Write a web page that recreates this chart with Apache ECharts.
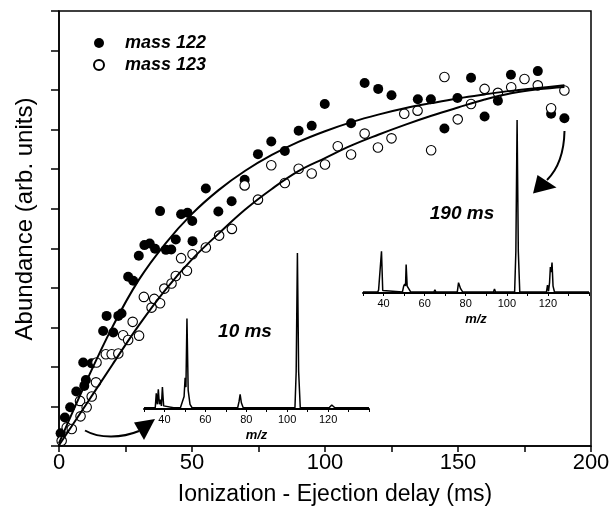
<!DOCTYPE html>
<html><head><meta charset="utf-8">
<script src="https://cdn.jsdelivr.net/npm/echarts/dist/echarts.min.js"></script>
<style>html,body{margin:0;padding:0;background:#fff}#c{width:610px;height:508px}</style>
</head><body><div id="c"></div>
<script>
// ---- data ----
const delay122 = [0.6,2.2,4.2,6.5,9.1,9.5,10.1,12.3,16.6,17.9,20.4,22.3,23.5,26.0,27.9,30.0,32.1,34.1,36.1,38.0,40.2,42.2,43.9,45.9,48.3,50.1,50.2,55.2,59.9,64.9,69.8,74.8,79.8,84.9,90.1,95.0,99.9,109.8,114.9,120.0,125.0,134.9,139.8,144.9,149.8,154.9,160.0,165.0,169.9,180.0,185.0,190.0];
const abund122 = [0.32,0.72,0.98,1.38,2.11,1.52,1.67,2.09,2.91,3.29,2.87,3.29,3.35,4.28,4.18,4.81,5.08,5.12,4.99,5.94,4.96,4.97,5.22,5.86,5.90,5.69,5.18,6.51,5.93,6.19,6.73,7.38,7.70,7.46,7.97,8.10,8.65,8.16,9.18,9.03,8.87,8.77,8.77,8.03,8.80,9.31,8.33,8.73,9.39,9.48,8.40,8.29];
const delay123 = [1.0,2.9,4.8,7.9,8.1,10.4,12.3,13.9,14.1,17.6,19.8,22.3,24.1,26.0,27.7,30.1,31.9,34.8,35.8,38.0,39.6,42.3,43.9,45.9,48.1,50.2,55.2,60.2,65.0,69.8,74.8,79.8,84.9,90.1,95.0,100.0,104.8,109.8,114.9,119.9,125.0,129.8,134.8,139.9,144.9,149.9,154.9,160.0,165.0,170.0,175.0,180.0,185.0,190.0];
const abund123 = [0.13,0.47,0.43,1.14,0.75,0.98,1.25,1.61,2.11,2.32,2.32,2.34,2.80,2.68,3.14,2.79,3.77,3.50,3.72,3.61,3.98,4.11,4.30,4.75,4.43,4.85,5.02,5.32,5.49,6.59,6.23,7.10,6.65,7.01,6.89,7.12,7.58,7.37,7.90,7.55,7.78,8.40,8.48,7.48,9.33,8.26,8.65,9.03,8.93,9.07,9.28,9.12,8.54,8.99];
const fitDelay = [0,10,20,30,40,50,60,70,80,90,100,110,120,130,140,150,160,170,180,190];
const fit122 = [0.07,1.59,3.0,4.2,5.12,5.87,6.47,6.96,7.36,7.69,7.96,8.19,8.38,8.54,8.67,8.79,8.89,8.98,9.05,9.12];
const fit123 = [0.02,1.03,2.05,3.05,3.95,4.72,5.37,5.98,6.5,6.95,7.28,7.6,7.87,8.12,8.35,8.56,8.76,8.92,9.02,9.08];
const spec10Mz = [30,35.5,36,36.5,37,37.5,38,38.5,39,39.6,40.5,44.5,45,45.5,47.8,49.6,50.1,50.5,51,51.6,52.5,53.5,64.5,65,65.5,75.8,76.5,77,77.6,78.5,93.5,94,94.5,103.8,104.4,105,105.6,106.4,119.5,120,120.5,121,121.8,122.6,123.3,140];
const spec10Int = [0.8,0.8,10,3,12.6,3,6,2,14,2,0.8,0.8,1.8,0.8,0.8,8,20,14,58,12,3,0.8,0.8,1.5,0.8,0.8,5,9.4,4,0.8,0.8,1.6,0.8,0.8,24,100,24,0.8,0.8,1.5,0.8,2,2.6,2.2,0.8,0.8];
const spec190Mz = [30,37.2,37.6,38,38.4,39,39.6,40.5,49.2,49.8,50.3,50.7,51,51.5,52.2,53.2,62.5,63,63.5,64.5,65,65.5,75.9,76.5,77,77.5,78.5,93.5,94,94.5,103.8,104.4,105,105.6,106.3,114.5,115,115.5,119.3,119.8,120.3,120.8,121.2,121.6,122,122.5,123.2,126.5,127,127.5,140];
const spec190Int = [0.6,0.6,1.8,1,1.2,24.1,1.5,0.6,0.6,4,5.2,4,16.4,4,3,0.6,0.6,1.5,0.6,0.6,1.8,0.6,0.6,6,5.5,2.5,0.6,0.6,2.3,0.6,0.6,24,100,24,0.6,0.6,1.7,0.6,0.6,4.5,1,6,15,12,17.6,4,0.6,0.6,1.7,0.6,0.6];
const delayTickLabels = [0,50,100,150,200];
const mzTickLabels = [40,60,80,100,120];

// ---- chart ----
const FONT = 'Liberation Sans, Arial, Helvetica, sans-serif';
const zip = (a, b) => a.map((v, i) => [v, b[i]]);
const chart = echarts.init(document.getElementById('c'), null, {renderer: 'canvas'});
const black = '#000';

function insetX(grid) {
  return {
    gridIndex: grid, type: 'value', min: 30, max: 140, interval: 10,
    axisLine: {show: true, onZero: false, lineStyle: {color: black, width: 2}},
    axisTick: {show: true, length: 3, lineStyle: {color: black, width: 1}},
    axisLabel: {fontSize: 11, color: black, margin: 5, fontFamily: FONT,
      formatter: v => mzTickLabels.includes(v) ? String(v) : ''},
    splitLine: {show: false},
    name: 'm/z', nameLocation: 'middle', nameGap: 20,
    nameTextStyle: {fontSize: 13, fontWeight: 'bold', fontStyle: 'italic', color: black, fontFamily: FONT}
  };
}
function insetY(grid) {
  return {gridIndex: grid, type: 'value', min: 0, max: 100, show: false, splitLine: {show: false}};
}

const option = {
  animation: false,
  backgroundColor: '#fff',
  textStyle: {fontFamily: FONT},
  grid: [
    {left: 59, right: 19, top: 11, bottom: 62, show: true, borderColor: black, borderWidth: 1.5, outerBoundsMode: 'none'},
    {left: 144, right: 241, top: 253, bottom: 99, outerBoundsMode: 'none'},
    {left: 363, right: 21, top: 120, bottom: 215, outerBoundsMode: 'none'}
  ],
  legend: {
    data: ['mass 122', 'mass 123'], orient: 'vertical', left: 93, top: 34, padding: 0,
    itemWidth: 10, itemHeight: 10, itemGap: 4,
    textStyle: {fontSize: 18, lineHeight: 18, fontWeight: 'bold', fontStyle: 'italic', color: black, fontFamily: FONT, padding: [0, 0, 0, 16]}
  },
  xAxis: [
    {
      gridIndex: 0, type: 'value', min: 0, max: 200, interval: 25,
      axisLine: {show: true, onZero: false, lineStyle: {color: black, width: 1.5}},
      axisTick: {show: true, length: 6, lineStyle: {color: black, width: 1.5}},
      axisLabel: {fontSize: 22, color: black, margin: 6, fontFamily: FONT,
        formatter: v => delayTickLabels.includes(v) ? String(v) : ''},
      splitLine: {show: false},
      name: 'Ionization - Ejection delay (ms)', nameLocation: 'middle', nameGap: 37,
      nameTextStyle: {fontSize: 23, color: black, fontFamily: FONT, padding: [0, 0, 0, 20]}
    },
    insetX(1), insetX(2)
  ],
  yAxis: [
    {
      gridIndex: 0, type: 'value', min: 0, max: 11, interval: 1,
      axisLine: {show: true, onZero: false, lineStyle: {color: black, width: 1.5}},
      axisTick: {show: true, length: 8, lineStyle: {color: black, width: 1.5}},
      axisLabel: {show: false},
      splitLine: {show: false},
      name: 'Abundance (arb. units)', nameLocation: 'middle', nameGap: 22,
      nameTextStyle: {fontSize: 24, color: black, fontFamily: FONT, padding: [0, 0, 0, 19]}
    },
    insetY(1), insetY(2)
  ],
  series: [
    {name: 'mass 122', type: 'scatter', xAxisIndex: 0, yAxisIndex: 0, data: zip(delay122, abund122),
      symbol: 'circle', symbolSize: 10, itemStyle: {color: black, opacity: 1}, z: 3},
    {name: 'mass 123', type: 'scatter', xAxisIndex: 0, yAxisIndex: 0, data: zip(delay123, abund123),
      symbol: 'circle', symbolSize: 9.5, itemStyle: {color: '#fff', borderColor: black, borderWidth: 1.1, opacity: 1}, z: 3},
    {name: 'fit 122', type: 'line', xAxisIndex: 0, yAxisIndex: 0, data: zip(fitDelay, fit122),
      smooth: 0.4, symbol: 'none', lineStyle: {color: black, width: 2}, z: 4},
    {name: 'fit 123', type: 'line', xAxisIndex: 0, yAxisIndex: 0, data: zip(fitDelay, fit123),
      smooth: 0.4, symbol: 'none', lineStyle: {color: black, width: 2}, z: 4},
    {name: '10 ms spectrum', type: 'line', xAxisIndex: 1, yAxisIndex: 1, data: zip(spec10Mz, spec10Int),
      symbol: 'none', lineStyle: {color: black, width: 1.5}, z: 5},
    {name: '190 ms spectrum', type: 'line', xAxisIndex: 2, yAxisIndex: 2, data: zip(spec190Mz, spec190Int),
      symbol: 'none', lineStyle: {color: black, width: 1.5}, z: 5}
  ],
  graphic: [
    {type: 'text', x: 245, y: 332, z: 10,
      style: {text: '10 ms', font: 'italic bold 19px ' + FONT, fill: black, align: 'center', verticalAlign: 'middle', textAlign: 'center', textVerticalAlign: 'middle'}},
    {type: 'text', x: 462, y: 214, z: 10,
      style: {text: '190 ms', font: 'italic bold 19px ' + FONT, fill: black, align: 'center', verticalAlign: 'middle', textAlign: 'center', textVerticalAlign: 'middle'}},
    {type: 'bezierCurve', z: 10,
      shape: {x1: 85, y1: 430.5, cpx1: 100, cpy1: 439, cpx2: 122, cpy2: 438, x2: 139, y2: 431},
      style: {stroke: black, lineWidth: 2, fill: null}},
    {type: 'polygon', z: 10, shape: {points: [[134, 422.5], [155, 419], [144, 440]]}, style: {fill: black}},
    {type: 'bezierCurve', z: 10,
      shape: {x1: 564.5, y1: 131, cpx1: 564, cpx2: 557, cpy1: 155, cpy2: 170, x2: 547, y2: 180},
      style: {stroke: black, lineWidth: 2, fill: null}},
    {type: 'polygon', z: 10, shape: {points: [[537.5, 175], [556.5, 187.5], [533, 193.5]]}, style: {fill: black}}
  ]
};
chart.setOption(option);
</script>
</body></html>
